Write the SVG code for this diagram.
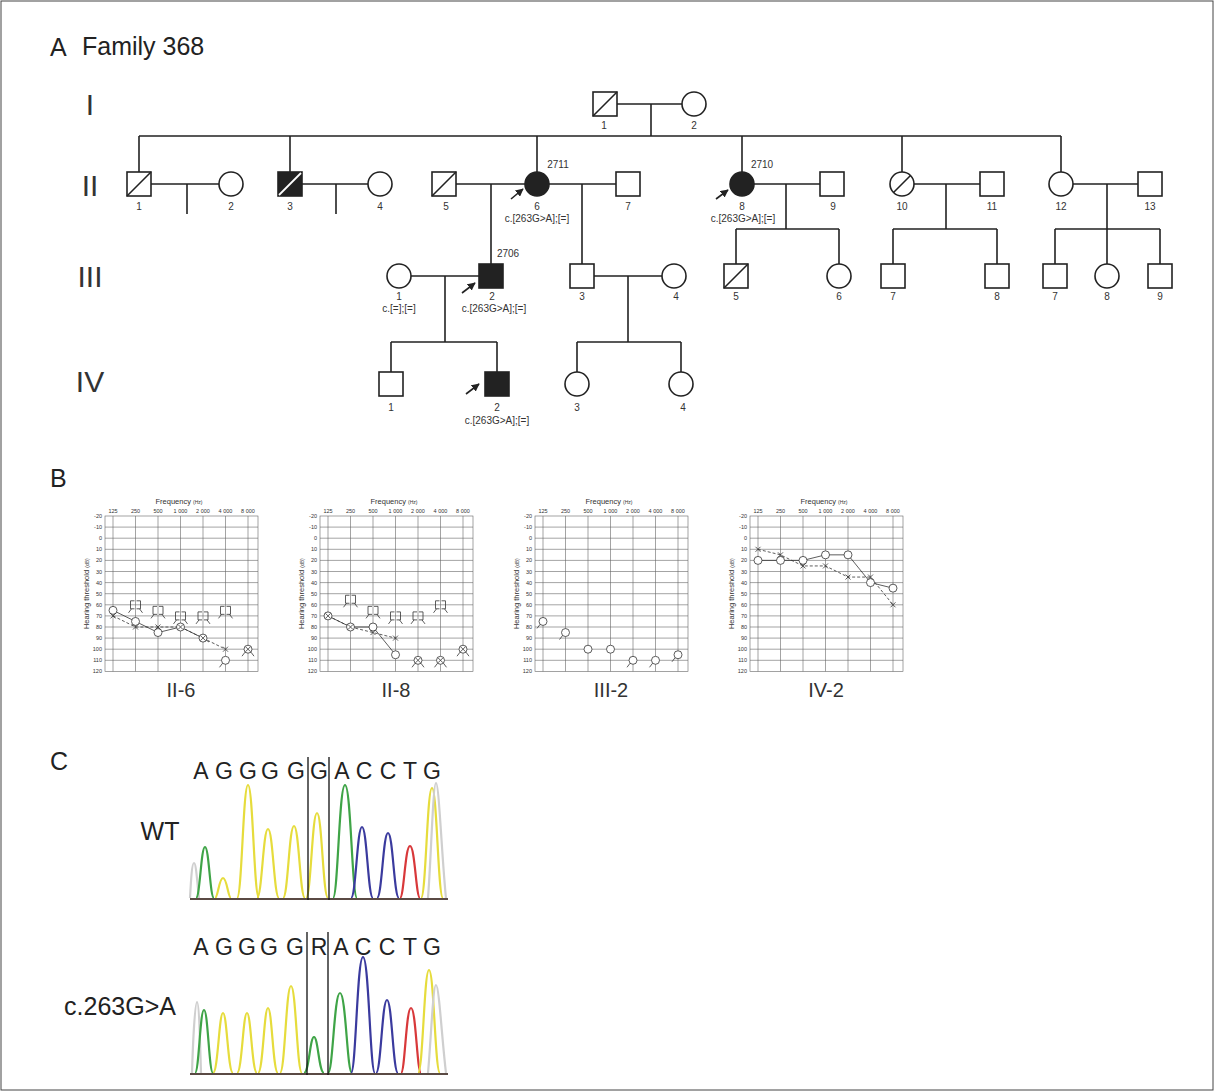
<svg xmlns="http://www.w3.org/2000/svg" xmlns:xlink="http://www.w3.org/1999/xlink" width="1215" height="1092" viewBox="0 0 1215 1092">
<style>
.ln{fill:none;stroke:#222;stroke-width:1.6}
.sym{fill:#fff;stroke:#222;stroke-width:1.6}
.aff{fill:#222;stroke:#222;stroke-width:1.6}
.sl{stroke:#222;stroke-width:1.6}
.wsl{stroke:#fff;stroke-width:1.8}
.t{font-family:"Liberation Sans",Arial,sans-serif;fill:#333;font-size:10px;text-anchor:middle}
.big{font-family:"Liberation Sans",Arial,sans-serif;fill:#222;font-size:25px}
.gen{font-family:"Liberation Sans",Arial,sans-serif;fill:#333;font-size:30px;text-anchor:middle}
.g{fill:none;stroke:#666;stroke-width:0.6}
.at{font-family:"Liberation Sans",Arial,sans-serif;fill:#333;font-size:5.5px;text-anchor:middle}
.atr{font-family:"Liberation Sans",Arial,sans-serif;fill:#333;font-size:5.5px;text-anchor:end}
.ax{font-family:"Liberation Sans",Arial,sans-serif;fill:#333333;font-size:7.5px;text-anchor:middle}
.cap{font-family:"Liberation Sans",Arial,sans-serif;fill:#333;font-size:20px;text-anchor:middle}
.om{fill:#fff;stroke:#333;stroke-width:0.8}
.xm{fill:none;stroke:#333;stroke-width:0.8}
.dl{fill:none;stroke:#333;stroke-width:0.8}
.dd{fill:none;stroke:#333;stroke-width:0.8;stroke-dasharray:3 2}
.seq{font-family:"Liberation Sans",Arial,sans-serif;fill:#222;font-size:23px;text-anchor:middle}
.pk{fill:none;stroke-width:2.2;stroke-linejoin:round}
.Y{stroke:#e6dc3c}
.Gn{stroke:#3fa447}
.Bl{stroke:#3a3a9e}
.Rd{stroke:#d8383a}
.Gy{stroke:#cfcfcf}
</style>
<defs>
<marker id="ah" viewBox="0 0 10 10" refX="9" refY="5" markerWidth="5" markerHeight="5" orient="auto"><path d="M0,0L10,5L0,10z" fill="#222"/></marker>
<g id="aud-grid">
<rect x="0" y="0" width="153" height="155.4" class="g"/>
<path class="g" d="M0,11.1H153M0,22.2H153M0,33.3H153M0,44.4H153M0,55.5H153M0,66.6H153M0,77.7H153M0,88.8H153M0,99.9H153M0,111H153M0,122.1H153M0,133.2H153M0,144.3H153M8,0V155.4M30.5,0V155.4M53,0V155.4M75.5,0V155.4M98,0V155.4M120.5,0V155.4M143,0V155.4"/>
<text class="atr" x="-3" y="2">-20</text><text class="atr" x="-3" y="13.1">-10</text><text class="atr" x="-3" y="24.2">0</text><text class="atr" x="-3" y="35.3">10</text><text class="atr" x="-3" y="46.4">20</text><text class="atr" x="-3" y="57.5">30</text><text class="atr" x="-3" y="68.6">40</text><text class="atr" x="-3" y="79.7">50</text><text class="atr" x="-3" y="90.8">60</text><text class="atr" x="-3" y="101.9">70</text><text class="atr" x="-3" y="113">80</text><text class="atr" x="-3" y="124.1">90</text><text class="atr" x="-3" y="135.2">100</text><text class="atr" x="-3" y="146.3">110</text><text class="atr" x="-3" y="157.4">120</text>
<text class="at" x="8" y="-3">125</text><text class="at" x="30.5" y="-3">250</text><text class="at" x="53" y="-3">500</text><text class="at" x="75.5" y="-3">1 000</text><text class="at" x="98" y="-3">2 000</text><text class="at" x="120.5" y="-3">4 000</text><text class="at" x="143" y="-3">8 000</text>
<text class="ax" x="74" y="-12" fill="#333">Frequency <tspan font-size="5" fill="#333">(Hz)</tspan></text>
<text class="ax" fill="#333" transform="translate(-16,77.7) rotate(-90)">Hearing threshold <tspan font-size="5" fill="#333">(dB)</tspan></text>
</g>
<circle id="om" r="4" class="om"/>
<path id="xm" class="xm" d="M-2.5,-2.5L2.5,2.5M-2.5,2.5L2.5,-2.5"/>
<path id="br" class="xm" d="M-1,-4H-5V4H-1M1,-4H5V4H1M-4,4L-7,8M4,4L7,8"/>
<path id="nrl" class="xm" d="M-3,3L-6,7"/>
<path id="nrb" class="xm" d="M-3,3L-6,7M3,3L6,7"/>
</defs>

<rect x="1" y="1" width="1212" height="1089" fill="none" stroke="#444" stroke-width="1"/>

<text class="big" x="50" y="56" font-size="26">A</text>
<text class="big" x="82" y="55" font-size="26">Family 368</text>
<text class="gen" x="90" y="115">I</text>
<text class="gen" x="90" y="196">II</text>
<text class="gen" x="90" y="287">III</text>
<text class="gen" x="90" y="392">IV</text>

<g id="connectors">
<path class="ln" d="M617,104H682M651,104V136M139,136H1061M139,136V172M290,136V172M537,136V172M742,136V172M902,136V172M1061,136V172"/>
<path class="ln" d="M151,184H219M187,184V214M302,184H368M336,184V214"/>
<path class="ln" d="M456,184H525M491,184V264M549,184H616M582,184V264"/>
<path class="ln" d="M754,184H820M786,184V229M736,229H839M736,229V264M839,229V264"/>
<path class="ln" d="M914,184H980M946,184V229M893,229H997M893,229V264M997,229V264"/>
<path class="ln" d="M1073,184H1138M1107,184V229M1055,229H1160M1055,229V264M1107,229V264M1160,229V264"/>
<path class="ln" d="M411,276H479M445,276V342M391,342H497M391,342V372M497,342V372"/>
<path class="ln" d="M594,276H662M628,276V342M577,342H681M577,342V372M681,342V372"/>
<path class="ln" marker-end="url(#ah)" d="M511,199L523,189"/>
<path class="ln" marker-end="url(#ah)" d="M716,199L728,190"/>
<path class="ln" marker-end="url(#ah)" d="M462,293L475,283"/>
<path class="ln" marker-end="url(#ah)" d="M466,394L479,384"/>
</g>

<g id="I-1"><rect class="sym" x="593" y="92" width="24" height="24"/><line class="sl" x1="593" y1="116" x2="617" y2="92"/><text class="t" x="604" y="129">1</text></g>
<g id="I-2"><circle class="sym" cx="694" cy="104" r="12"/><text class="t" x="694" y="129">2</text></g>

<g id="II-1"><rect class="sym" x="127" y="172" width="24" height="24"/><line class="sl" x1="127" y1="196" x2="151" y2="172"/><text class="t" x="139" y="210">1</text></g>
<g id="II-2"><circle class="sym" cx="231" cy="184" r="12"/><text class="t" x="231" y="210">2</text></g>
<g id="II-3"><rect class="aff" x="278" y="172" width="24" height="24"/><line class="wsl" x1="279" y1="195" x2="301" y2="173"/><text class="t" x="290" y="210">3</text></g>
<g id="II-4"><circle class="sym" cx="380" cy="184" r="12"/><text class="t" x="380" y="210">4</text></g>
<g id="II-5"><rect class="sym" x="432" y="172" width="24" height="24"/><line class="sl" x1="432" y1="196" x2="456" y2="172"/><text class="t" x="446" y="210">5</text></g>
<g id="II-6"><circle class="aff" cx="537" cy="184" r="12"/><text class="t" x="558" y="168">2711</text><text class="t" x="537" y="210">6</text><text class="t" x="537" y="222">c.[263G&gt;A];[=]</text></g>
<g id="II-7"><rect class="sym" x="616" y="172" width="24" height="24"/><text class="t" x="628" y="210">7</text></g>
<g id="II-8"><circle class="aff" cx="742" cy="184" r="12"/><text class="t" x="762" y="168">2710</text><text class="t" x="742" y="210">8</text><text class="t" x="743" y="222">c.[263G&gt;A];[=]</text></g>
<g id="II-9"><rect class="sym" x="820" y="172" width="24" height="24"/><text class="t" x="833" y="210">9</text></g>
<g id="II-10"><circle class="sym" cx="902" cy="184" r="12"/><line class="sl" x1="893.5" y1="192.5" x2="910.5" y2="175.5"/><text class="t" x="902" y="210">10</text></g>
<g id="II-11"><rect class="sym" x="980" y="172" width="24" height="24"/><text class="t" x="992" y="210">11</text></g>
<g id="II-12"><circle class="sym" cx="1061" cy="184" r="12"/><text class="t" x="1061" y="210">12</text></g>
<g id="II-13"><rect class="sym" x="1138" y="172" width="24" height="24"/><text class="t" x="1150" y="210">13</text></g>

<g id="III-1"><circle class="sym" cx="399" cy="276" r="12"/><text class="t" x="399" y="300">1</text><text class="t" x="399" y="312">c.[=];[=]</text></g>
<g id="III-2"><rect class="aff" x="479" y="264" width="24" height="24"/><text class="t" x="508" y="257">2706</text><text class="t" x="492" y="300">2</text><text class="t" x="494" y="312">c.[263G&gt;A];[=]</text></g>
<g id="III-3"><rect class="sym" x="570" y="264" width="24" height="24"/><text class="t" x="582" y="300">3</text></g>
<g id="III-4"><circle class="sym" cx="674" cy="276" r="12"/><text class="t" x="676" y="300">4</text></g>
<g id="III-5"><rect class="sym" x="724" y="264" width="24" height="24"/><line class="sl" x1="724" y1="288" x2="748" y2="264"/><text class="t" x="736" y="300">5</text></g>
<g id="III-6"><circle class="sym" cx="839" cy="276" r="12"/><text class="t" x="839" y="300">6</text></g>
<g id="III-7a"><rect class="sym" x="881" y="264" width="24" height="24"/><text class="t" x="893" y="300">7</text></g>
<g id="III-8a"><rect class="sym" x="985" y="264" width="24" height="24"/><text class="t" x="997" y="300">8</text></g>
<g id="III-7b"><rect class="sym" x="1043" y="264" width="24" height="24"/><text class="t" x="1055" y="300">7</text></g>
<g id="III-8b"><circle class="sym" cx="1107" cy="276" r="12"/><text class="t" x="1107" y="300">8</text></g>
<g id="III-9"><rect class="sym" x="1148" y="264" width="24" height="24"/><text class="t" x="1160" y="300">9</text></g>

<g id="IV-1"><rect class="sym" x="379" y="372" width="24" height="24"/><text class="t" x="391" y="411">1</text></g>
<g id="IV-2"><rect class="aff" x="485" y="372" width="24" height="24"/><text class="t" x="497" y="411">2</text><text class="t" x="497" y="424">c.[263G&gt;A];[=]</text></g>
<g id="IV-3"><circle class="sym" cx="577" cy="384" r="12"/><text class="t" x="577" y="411">3</text></g>
<g id="IV-4"><circle class="sym" cx="681" cy="384" r="12"/><text class="t" x="683" y="411">4</text></g>

<text class="big" x="50" y="487">B</text>

<g id="aud-II-6" transform="translate(105,516)">
<use href="#aud-grid"/>
<polyline class="dl" points="8,94.35 30.5,105.45 53,116.55 75.5,111 98,122.1 104,126"/>
<polyline class="dd" points="8,99.9 30.5,111 53,111 75.5,111 98,122.1 120.5,133.2"/>
<use href="#br" x="30.5" y="88.8"/><use href="#br" x="53" y="94.35"/><use href="#br" x="75.5" y="99.9"/><use href="#br" x="98" y="99.9"/><use href="#br" x="120.5" y="94.35"/>
<use href="#om" x="8" y="94.35"/><use href="#om" x="30.5" y="105.45"/><use href="#om" x="53" y="116.55"/><use href="#om" x="75.5" y="111"/><use href="#om" x="98" y="122.1"/><use href="#om" x="120.5" y="144.3"/><use href="#om" x="143" y="133.2"/>
<use href="#xm" x="8" y="99.9"/><use href="#xm" x="30.5" y="111"/><use href="#xm" x="53" y="111"/><use href="#xm" x="75.5" y="111"/><use href="#xm" x="98" y="122.1"/><use href="#xm" x="120.5" y="133.2"/><use href="#xm" x="143" y="133.2"/>
<use href="#nrl" x="120.5" y="144.3"/><use href="#nrb" x="143" y="133.2"/>
<text class="cap" x="76" y="181">II-6</text>
</g>

<g id="aud-II-8" transform="translate(320,516)">
<use href="#aud-grid"/>
<polyline class="dl" points="8,99.9 30.5,111 53,111 75.5,138.75"/>
<polyline class="dd" points="8,99.9 30.5,111 53,116.55 75.5,122.1"/>
<use href="#br" x="30.5" y="83.25"/><use href="#br" x="53" y="94.35"/><use href="#br" x="75.5" y="99.9"/><use href="#br" x="98" y="99.9"/><use href="#br" x="120.5" y="88.8"/>
<use href="#om" x="8" y="99.9"/><use href="#om" x="30.5" y="111"/><use href="#om" x="53" y="111"/><use href="#om" x="75.5" y="138.75"/><use href="#om" x="98" y="144.3"/><use href="#om" x="120.5" y="144.3"/><use href="#om" x="143" y="133.2"/>
<use href="#xm" x="8" y="99.9"/><use href="#xm" x="30.5" y="111"/><use href="#xm" x="53" y="116.55"/><use href="#xm" x="75.5" y="122.1"/><use href="#xm" x="98" y="144.3"/><use href="#xm" x="120.5" y="144.3"/><use href="#xm" x="143" y="133.2"/>
<use href="#nrb" x="98" y="144.3"/><use href="#nrb" x="120.5" y="144.3"/><use href="#nrb" x="143" y="133.2"/>
<text class="cap" x="76" y="181">II-8</text>
</g>

<g id="aud-III-2" transform="translate(535,516)">
<use href="#aud-grid"/>
<use href="#om" x="8" y="105.45"/><use href="#om" x="30.5" y="116.55"/><use href="#om" x="53" y="133.2"/><use href="#om" x="75.5" y="133.2"/><use href="#om" x="98" y="144.3"/><use href="#om" x="120.5" y="144.3"/><use href="#om" x="143" y="138.75"/>
<use href="#nrl" x="8" y="105.45"/><use href="#nrl" x="30.5" y="116.55"/><use href="#nrl" x="98" y="144.3"/><use href="#nrl" x="120.5" y="144.3"/><use href="#nrl" x="143" y="138.75"/>
<text class="cap" x="76" y="181">III-2</text>
</g>

<g id="aud-IV-2" transform="translate(750,516)">
<use href="#aud-grid"/>
<polyline class="dl" points="8,44.4 30.5,44.4 53,44.4 75.5,38.85 98,38.85 120.5,66.6 143,72.15"/>
<polyline class="dd" points="8,33.3 30.5,38.85 53,49.95 75.5,49.95 98,61.05 120.5,61.05 143,88.8"/>
<use href="#om" x="8" y="44.4"/><use href="#om" x="30.5" y="44.4"/><use href="#om" x="53" y="44.4"/><use href="#om" x="75.5" y="38.85"/><use href="#om" x="98" y="38.85"/><use href="#om" x="120.5" y="66.6"/><use href="#om" x="143" y="72.15"/>
<use href="#xm" x="8" y="33.3"/><use href="#xm" x="30.5" y="38.85"/><use href="#xm" x="53" y="49.95"/><use href="#xm" x="75.5" y="49.95"/><use href="#xm" x="98" y="61.05"/><use href="#xm" x="120.5" y="61.05"/><use href="#xm" x="143" y="88.8"/>
<text class="cap" x="76" y="181">IV-2</text>
</g>

<text class="big" x="50" y="770">C</text>
<text class="big" x="160" y="840" text-anchor="middle">WT</text>
<text class="big" x="120" y="1015" text-anchor="middle" font-size="26">c.263G&gt;A</text>

<g id="seq-wt">
<text class="seq" x="201" y="779">A</text><text class="seq" x="224" y="779">G</text><text class="seq" x="248" y="779">G</text><text class="seq" x="270" y="779">G</text><text class="seq" x="296" y="779">G</text><text class="seq" x="319" y="779">G</text><text class="seq" x="342" y="779">A</text><text class="seq" x="364" y="779">C</text><text class="seq" x="388" y="779">C</text><text class="seq" x="410" y="779">T</text><text class="seq" x="432" y="779">G</text>
<path class="pk Gy" d="M190,898C191,880 192,863 194,863C196,863 197,880 199,898"/>
<path class="pk Gn" d="M196,898C200,898 201,847 205,847C209,847 210,898 214,898"/>
<path class="pk Y" d="M215,898C218,898 219,878 223,878C227,878 228,898 231,898"/>
<path class="pk Y" d="M237,898C242,898 243,785 248,785C253,785 254,898 259,898"/>
<path class="pk Y" d="M257,898C262,898 263,829 268,829C273,829 274,898 279,898"/>
<path class="pk Y" d="M283,898C288,898 289,826 294,826C299,826 300,898 305,898"/>
<path class="pk Y" d="M306,898C311,898 312,813 317,813C322,813 323,898 328,898"/>
<path class="pk Gn" d="M333,898C338,898 339,785 345,785C351,785 352,898 357,898"/>
<path class="pk Bl" d="M351,898C356,898 357,827 362,827C367,827 368,898 373,898"/>
<path class="pk Bl" d="M377,898C382,898 383,833 388,833C393,833 394,898 399,898"/>
<path class="pk Rd" d="M400,898C404,898 405,846 410,846C415,846 416,898 420,898"/>
<path class="pk Y" d="M421,898C426,898 427,788 432,788C437,788 438,898 443,898"/>
<path class="pk Gy" d="M428,898C431,860 433,783 436,783C439,783 442,860 446,898"/>
<path d="M190,899H448" stroke="#5a4a44" stroke-width="2"/>
<path d="M308,757V900M329,757V900" stroke="#111" stroke-width="1.3"/>
</g>

<g id="seq-mut">
<text class="seq" x="201" y="955">A</text><text class="seq" x="224" y="955">G</text><text class="seq" x="247" y="955">G</text><text class="seq" x="269" y="955">G</text><text class="seq" x="295" y="955">G</text><text class="seq" x="319" y="955">R</text><text class="seq" x="341" y="955">A</text><text class="seq" x="363" y="955">C</text><text class="seq" x="387" y="955">C</text><text class="seq" x="410" y="955">T</text><text class="seq" x="432" y="955">G</text>
<path class="pk Gy" d="M192,1073C193,1040 195,1002 197,1002C199,1002 200,1040 201,1073"/>
<path class="pk Gn" d="M195,1073C199,1073 200,1010 204,1010C208,1010 209,1073 213,1073"/>
<path class="pk Y" d="M213,1073C218,1073 219,1013 223,1013C227,1013 228,1073 233,1073"/>
<path class="pk Y" d="M237,1073C242,1073 243,1013 247,1013C251,1013 252,1073 257,1073"/>
<path class="pk Y" d="M258,1073C263,1073 264,1008 268,1008C272,1008 273,1073 278,1073"/>
<path class="pk Y" d="M280,1073C285,1073 286,986 291,986C296,986 297,1073 302,1073"/>
<path class="pk Gn" d="M304,1073C309,1073 310,1037 314,1037C318,1037 319,1073 324,1073"/>
<path class="pk Gn" d="M328,1073C333,1073 334,993 340,993C346,993 347,1073 352,1073"/>
<path class="pk Bl" d="M351,1073C356,1073 357,957 363,957C369,957 370,1073 375,1073"/>
<path class="pk Bl" d="M376,1073C381,1073 382,1000 387,1000C392,1000 393,1073 398,1073"/>
<path class="pk Rd" d="M401,1073C405,1073 406,1008 411,1008C416,1008 417,1073 421,1073"/>
<path class="pk Y" d="M418,1073C423,1073 424,970 429,970C434,970 435,1073 440,1073"/>
<path class="pk Gy" d="M428,1073C431,1040 433,985 436,985C439,985 442,1040 446,1073"/>
<path d="M190,1074H448" stroke="#5a4a44" stroke-width="2"/>
<path d="M307,932V1075M328,932V1075" stroke="#111" stroke-width="1.3"/>
</g>
</svg>
